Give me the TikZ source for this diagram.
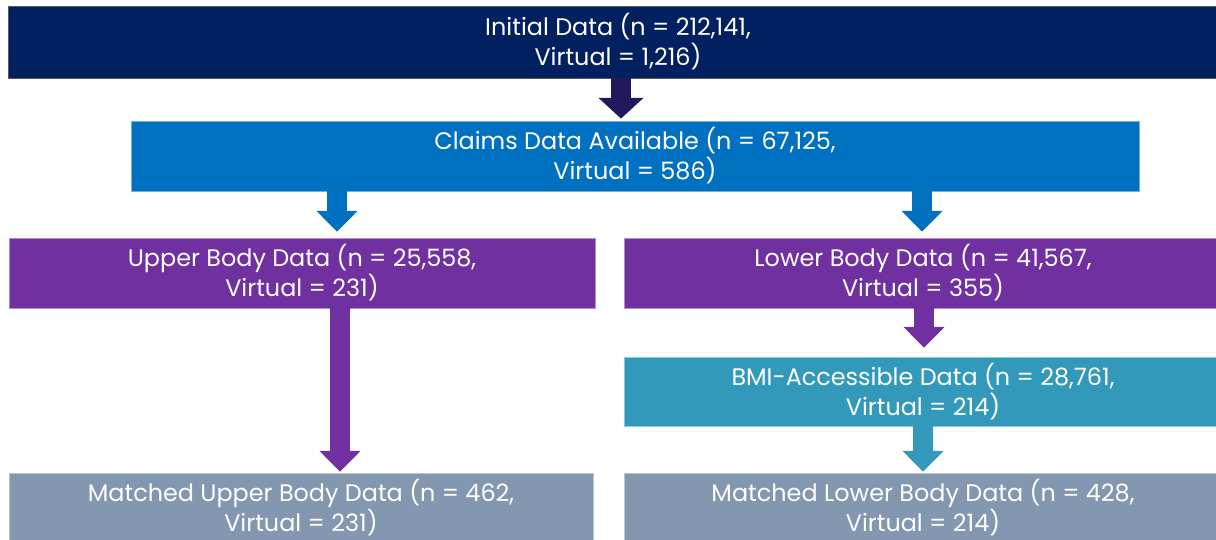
\documentclass[tikz,border=0pt]{standalone}
\usepackage{fontspec}
\setmainfont{Poppins}
\usetikzlibrary{arrows.meta}
\definecolor{navy}{HTML}{002060}
\definecolor{navyarrow}{HTML}{20195E}
\definecolor{claimblue}{HTML}{0070C0}
\definecolor{bodypurple}{HTML}{7030A0}
\definecolor{bmiteal}{HTML}{3399BB}
\definecolor{matchslate}{HTML}{8497B0}

\begin{document}
\begin{tikzpicture}[x=.025cm,y=-.025cm,
  box/.style={rectangle,inner sep=0pt,text=white,align=center,line width=.5pt,
    minimum height=1.75cm,font=\fontsize{17}{21.3}\selectfont},
  flow/.style={line width=.5cm,-{Triangle[width=1cm,length=.52cm]}}]
  \useasboundingbox (0,0) rectangle (1216,539);
  % boxes
  \node[box,fill=navy,draw=gray!70!black,minimum width=30.45cm,minimum height=1.8cm] (init) at (618,42)
    {Initial Data (n = 212,141,\\ Virtual = 1,216)};
  \node[box,fill=claimblue,draw=claimblue!55!white,minimum width=25.2cm] (claims) at (635,156)
    {Claims Data Available (n = 67,125,\\ Virtual = 586)};
  \node[box,fill=bodypurple,draw=bodypurple!55!white,minimum width=14.65cm] (upper) at (302,273)
    {Upper Body Data (n = 25,558,\\ Virtual = 231)};
  \node[box,fill=bodypurple,draw=bodypurple!55!white,minimum width=14.95cm] (lower) at (923,273)
    {Lower Body Data (n = 41,567,\\ Virtual = 355)};
  \node[box,fill=bmiteal,draw=bmiteal!55!white,minimum width=14.95cm,minimum height=1.725cm] (bmi) at (923,391.5)
    {BMI-Accessible Data (n = 28,761,\\ Virtual = 214)};
  \node[box,fill=matchslate,draw=matchslate!55!white,minimum width=14.6cm] (mupper) at (301,508)
    {Matched Upper Body Data (n = 462,\\ Virtual = 231)};
  \node[box,fill=matchslate,draw=matchslate!55!white,minimum width=14.95cm] (mlower) at (923,508)
    {Matched Lower Body Data (n = 428,\\ Virtual = 214)};
  % arrows
  \draw[flow,navyarrow,-{Triangle[width=1.1cm,length=.52cm]},shorten >=.05cm]
    (init.south -| 621,0) -- (claims.north -| 621,0);
  \draw[flow,claimblue,shorten >=.15cm] (claims.south -| 337,0) -- (upper.north -| 337,0);
  \draw[flow,claimblue,shorten >=.15cm] (claims.south -| 922,0) -- (lower.north -| 922,0);
  \draw[flow,bodypurple,shorten >=.025cm] (upper.south -| 340,0) -- (mupper.north -| 340,0);
  \draw[flow,bodypurple,shorten >=.225cm] (lower.south -| 924,0) -- (bmi.north -| 924,0);
  \draw[flow,bmiteal,shorten >=.025cm] (bmi.south -| 923,0) -- (mlower.north -| 923,0);
\end{tikzpicture}
\end{document}
